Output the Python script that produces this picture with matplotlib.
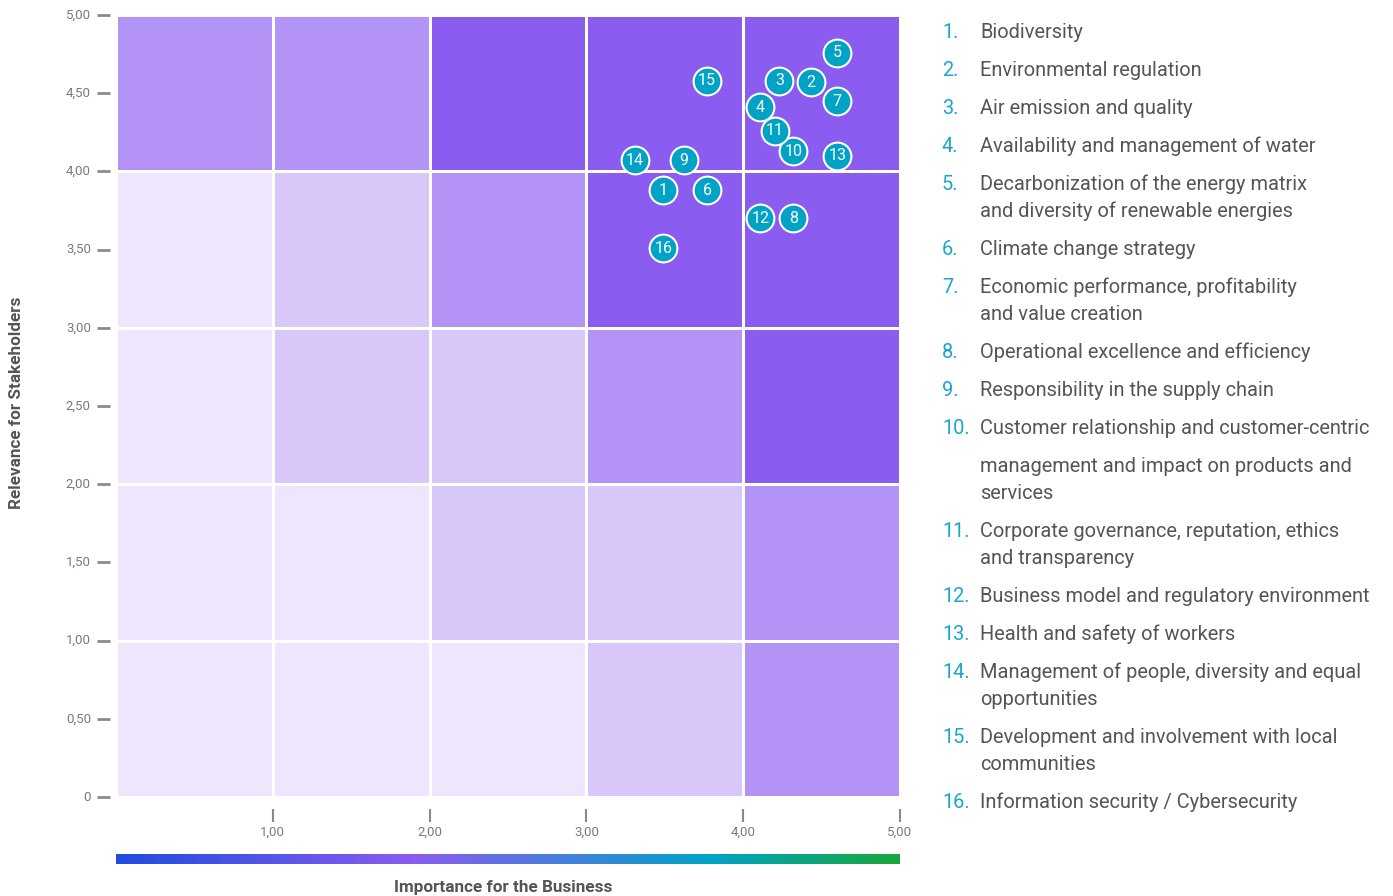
import numpy as np
import matplotlib.pyplot as plt
from matplotlib.colors import LinearSegmentedColormap, ListedColormap

# materiality topics: x = importance for the business, y = relevance for stakeholders
topic_ids = list(range(1, 17))
importance = [3.49, 4.43, 4.23, 4.11, 4.60, 3.77, 4.60, 4.32,
              3.62, 4.32, 4.20, 4.11, 4.60, 3.31, 3.77, 3.49]
relevance = [3.88, 4.57, 4.58, 4.41, 4.76, 3.88, 4.45, 3.70,
             4.07, 4.13, 4.26, 3.70, 4.10, 4.07, 4.58, 3.51]

topic_names = [
    "Biodiversity",
    "Environmental regulation",
    "Air emission and quality",
    "Availability and management of water",
    "Decarbonization of the energy matrix\nand diversity of renewable energies",
    "Climate change strategy",
    "Economic performance, profitability\nand value creation",
    "Operational excellence and efficiency",
    "Responsibility in the supply chain",
    "Customer relationship and customer-centric\nmanagement and impact on products and\nservices",
    "Corporate governance, reputation, ethics\nand transparency",
    "Business model and regulatory environment",
    "Health and safety of workers",
    "Management of people, diversity and equal\nopportunities",
    "Development and involvement with local\ncommunities",
    "Information security / Cybersecurity",
]

# priority level of each 1x1 cell, rows from y=0 (bottom) to y=4
cell_levels = np.array([
    [0, 0, 0, 1, 2],
    [0, 0, 1, 1, 2],
    [0, 1, 1, 2, 3],
    [0, 1, 2, 3, 3],
    [2, 2, 3, 3, 3],
])
level_colors = ["#ede6fd", "#d8c8f9", "#b394f6", "#8b5cf0"]

tick_values = [0, 0.5, 1, 1.5, 2, 2.5, 3, 3.5, 4, 4.5, 5]
x_tick_values = [1, 2, 3, 4, 5]

W, H = 1393, 896
plt.rcParams['font.family'] = ['Roboto', 'DejaVu Sans']
fig = plt.figure(figsize=(W / 100, H / 100), dpi=100)


def px_axes(x0, y0, x1, y1):
    return fig.add_axes([x0 / W, 1 - y1 / H, (x1 - x0) / W, (y1 - y0) / H])


ax = px_axes(116, 15, 900, 797)
ax.pcolormesh(np.arange(6), np.arange(6), cell_levels, cmap=ListedColormap(level_colors),
              vmin=-0.5, vmax=3.5, edgecolors="white", linewidth=1.8)
ax.set_xlim(0, 5)
ax.set_ylim(0, 5)
for s in ax.spines.values():
    s.set_visible(False)
ax.set_xticks([])
ax.set_yticks([])

ax.scatter(importance, relevance, s=400, color="#00a3c6", edgecolors="white",
           linewidths=1.5, zorder=3)
for i, x, y in zip(topic_ids, importance, relevance):
    ax.text(x, y, str(i), color="white", fontsize=11.5, ha="center", va="center",
            zorder=4)

# y ticks drawn outside the axes as short dashes with comma decimals
tick_grey = "#7a7a7a"
for v in tick_values:
    ax.plot([-0.12, -0.04], [v, v], color="#8a8a8a", lw=2, clip_on=False,
            solid_capstyle="butt")
    lbl = "0" if v == 0 else f"{v:.2f}".replace(".", ",")
    ax.text(-0.16, v, lbl, ha="right", va="center", fontsize=9.5, color=tick_grey,
            transform=ax.transData)

for v in x_tick_values:
    ax.plot([v, v], [-0.075, -0.16], color="#8a8a8a", lw=1.5, clip_on=False,
            solid_capstyle="butt")
    ax.text(v, -0.225, f"{v:.2f}".replace(".", ","), ha="center", va="center",
            fontsize=9.5, color=tick_grey)

fig.text(17 / W, 1 - 403 / H, "Relevance for Stakeholders", rotation=90,
         ha="center", va="center", fontsize=12.3, fontweight="bold", color="#555555")
fig.text(503 / W, 1 - 887 / H, "Importance for the Business",
         ha="center", va="center", fontsize=12.3, fontweight="bold", color="#555555")

# gradient strip under the x axis
bar = px_axes(116, 854, 900, 864)
grad = LinearSegmentedColormap.from_list(
    "strip", [(0, "#1f4de0"), (0.38, "#8b5cf0"), (0.76, "#00a3c6"), (1, "#1aa73a")])
bar.imshow(np.linspace(0, 1, 512)[None, :], aspect="auto", cmap=grad)
bar.axis("off")

# numbered legend on the right
num_color = "#1aa6cc"
text_color = "#555555"
line_h = 27
item_gap = 38
y = 32.5
for i, name in zip(topic_ids, topic_names):
    lines = name.split("\n")
    fig.text(942 / W, 1 - y / H, f"{i}.", color=num_color, fontsize=14.4,
             va="center", ha="left")
    ly = y
    for k, ln in enumerate(lines):
        fig.text(980 / W, 1 - ly / H, ln, color=text_color, fontsize=14.4,
                 va="center", ha="left")
        # item 10 has a wider gap after its first line
        ly += item_gap if (i == 10 and k == 0) else line_h
    y = ly - line_h + item_gap

fig.savefig("out.png", dpi=100)
